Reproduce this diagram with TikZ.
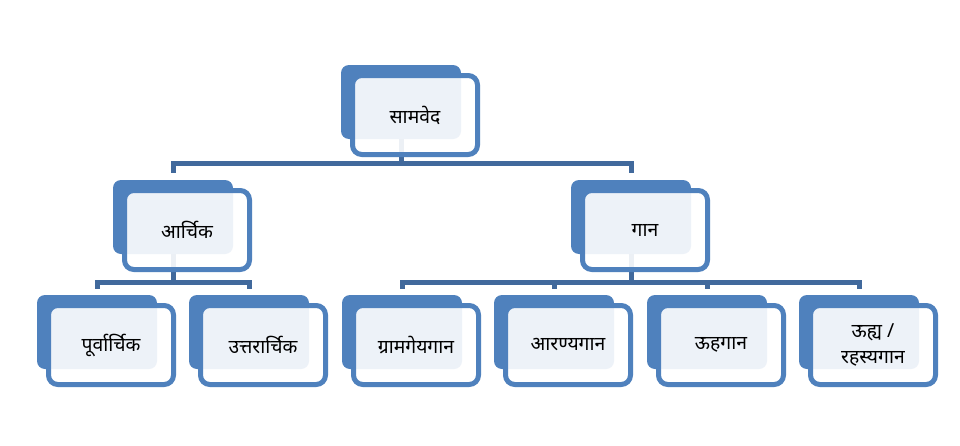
\documentclass[tikz,border=0pt]{standalone}
\usepackage{fontspec}
\newfontfamily\deva[Script=Devanagari]{Noto Sans}
\usetikzlibrary{calc,backgrounds}
\definecolor{boxblue}{HTML}{4F81BD}
\definecolor{linkblue}{HTML}{41699C}
\newcommand\hunit[4]{%
  \node[backbox] (#1b) at (#2+60,#3+37) {};
  \node[frontbox] (#1) at (#2+74,#3+50) {#4};
}
\begin{document}
\begin{tikzpicture}[x=0.75pt,y=-0.75pt,
  backbox/.style={rectangle,fill=boxblue,rounded corners=6pt,minimum width=90pt,minimum height=55.5pt,inner sep=0pt},
  frontbox/.style={rectangle,draw=boxblue,line width=3.75pt,fill=white,fill opacity=0.9,text opacity=1,rounded corners=7pt,minimum width=93.75pt,minimum height=59.25pt,inner sep=0pt,font=\deva\fontsize{14.5}{19}\selectfont,align=center},
  link/.style={draw=linkblue,line width=3.75pt}
]
\useasboundingbox (0,0) rectangle (960,446);
\hunit{s}{341}{65}{सामवेद}
\hunit{a}{113}{180}{आर्चिक}
\hunit{g}{571}{180}{गान}
\hunit{p}{37}{295}{पूर्वार्चिक}
\hunit{u}{189}{295}{उत्तरार्चिक}
\hunit{gr}{342}{295}{ग्रामगेयगान}
\hunit{ar}{494}{295}{आरण्यगान}
\hunit{uh}{647}{295}{ऊहगान}
\hunit{ra}{799}{295}{ऊह्य /\\रहस्यगान}
\coordinate (bar1) at ($(ab.north)+(0,-16)$);
\coordinate (bar2) at ($(pb.north)+(0,-12)$);
\coordinate (bar3) at ($(grb.north)+(0,-12)$);
\begin{pgfonlayer}{background}
\fill[white] (0,0) rectangle (960,446);
% top level
\draw[link] (sb.south) -- (sb.south |- bar1);
\draw[link] ($(ab.north)+(0,-7)$) -- (ab.north |- bar1) -- (gb.north |- bar1) -- ($(gb.north)+(0,-7)$);
% archika children
\draw[link] (ab.south) -- (ab.south |- bar2);
\draw[link] ($(pb.north)+(0,-6)$) -- (pb.north |- bar2) -- (ub.north |- bar2) -- ($(ub.north)+(0,-6)$);
% gana children
\draw[link] (gb.south) -- (gb.south |- bar3);
\draw[link] ($(grb.north)+(0,-6)$) -- (grb.north |- bar3) -- (rab.north |- bar3) -- ($(rab.north)+(0,-6)$);
\draw[link] ($(arb.north)+(0,-6)$) -- (arb.north |- bar3);
\draw[link] ($(uhb.north)+(0,-6)$) -- (uhb.north |- bar3);
\end{pgfonlayer}
\end{tikzpicture}
\end{document}
